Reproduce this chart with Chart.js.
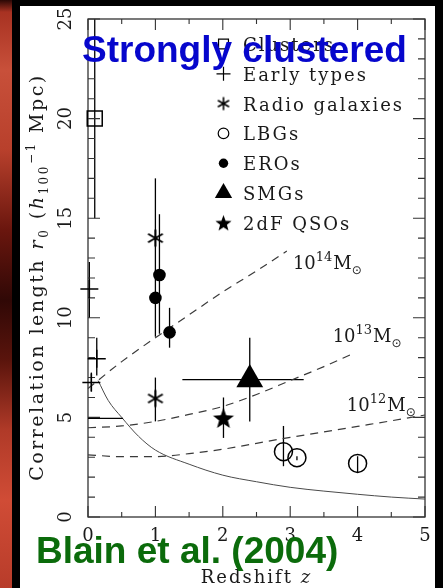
<!DOCTYPE html>
<html>
<head>
<meta charset="utf-8">
<title>Correlation length vs redshift</title>
<script src="https://cdn.jsdelivr.net/npm/chart.js@4.4.1/dist/chart.umd.min.js"></script>
<style>
    html, body { margin: 0; padding: 0; background: #000; }
    #stage { position: relative; width: 443px; height: 588px; overflow: hidden; background: #000; }
    #strip {
        position: absolute; left: 0; top: 0; width: 12px; height: 588px;
        background: linear-gradient(to bottom, #2a0805 0px, #a83222 12px, #c8503a 70px, #b8402c 150px,
            #6a160e 230px, #300806 300px, #5a140c 360px, #b03a28 430px, #d04c36 500px, #b83c2a 588px);
    }
    #panel { position: absolute; left: 20px; top: 6px; width: 415px; height: 582px; background: #fff; }
    #chart { position: absolute; left: 0; top: 0; }
    .tag {
        position: absolute; white-space: nowrap;
        font-family: "Liberation Sans", Arial, sans-serif; font-weight: bold;
        font-size: 37px; line-height: 37px;
    }
    #tag-top { left: 82px; top: 31px; color: #0606cc; }
    #tag-bottom { left: 36px; top: 532px; color: #0b6b0b; }
</style>
</head>
<body>
<div id="stage">
    <div id="strip"></div>
    <div id="panel"></div>
    <canvas id="chart" width="443" height="588"></canvas>
    <div class="tag" id="tag-top">Strongly clustered</div>
    <div class="tag" id="tag-bottom">Blain et al. (2004)</div>
</div>
<script>
// clustering measurements: redshift, r0 and r0 error range
const clusterZ = [0.1];
const clusterR0 = [20];
const clusterLo = [15];
const clusterHi = [26];

const earlyZ = [0.02, 0.13, 0.05];
const earlyR0 = [11.45, 7.95, 6.75];
const earlyLo = [10.0, 7.1, 6.3];
const earlyHi = [12.8, 9.0, 7.25];

const radioZ = [1.0, 1.0];
const radioR0 = [14.0, 5.95];
const radioLo = [9.05, 4.8];
const radioHi = [17.0, 7.0];

const lbgZ = [2.9, 3.1, 4.0];
const lbgR0 = [3.28, 2.98, 2.69];
const lbgLo = [2.55, 2.85, 2.25];
const lbgHi = [4.57, 3.05, 3.05];

const eroZ = [1.0, 1.06, 1.21];
const eroR0 = [11.0, 12.15, 9.27];
const eroLo = [null, 9.2, 8.5];
const eroHi = [null, 15.2, 10.5];

const smgZ = [2.4];
const smgR0 = [6.9];
const smgLo = [4.8];
const smgHi = [9.0];
const smgZLo = [1.4];
const smgZHi = [3.2];

const qsoZ = [2.01];
const qsoR0 = [4.97];
const qsoLo = [3.97];
const qsoHi = [6.0];

// local r0 level
const localZ = [0, 0.52];
const localR0 = [4.95, 4.95];

// halo mass tracks (dashed) and the solid curve
const halo14Z = [0, 0.5, 1, 1.5, 2, 2.5, 2.95];
const halo14R0 = [6.45, 7.8, 9.0, 10.15, 11.3, 12.35, 13.35];
const halo13Z = [0, 0.5, 1, 1.5, 2, 2.5, 3, 3.5, 3.92];
const halo13R0 = [4.48, 4.57, 4.8, 5.15, 5.55, 6.15, 6.85, 7.55, 8.18];
const halo12Z = [0, 0.5, 1, 1.5, 2, 2.5, 3, 3.5, 4, 4.5, 5];
const halo12R0 = [3.12, 3.03, 3.03, 3.18, 3.4, 3.7, 4.0, 4.27, 4.55, 4.83, 5.12];
const solidZ = [0.15, 0.3, 0.5, 0.75, 1, 1.5, 2, 2.5, 3, 3.5, 4, 4.5, 5];
const solidR0 = [6.85, 5.85, 5.0, 4.05, 3.36, 2.65, 2.1, 1.77, 1.49, 1.3, 1.14, 1.0, 0.9];

const yTickLabels = ["0", "5", "10", "15", "20", "25"];
const legendNames = ["Clusters", "Early types", "Radio galaxies", "LBGs", "EROs", "SMGs", "2dF QSOs"];

const SERIF = "'DejaVu Serif', serif";
const INK = "#1a1a1a";

function toXY(xs, ys) {
    return xs.map((x, i) => ({ x: x, y: ys[i] }));
}

// six-armed asterisk
function makeAsterisk(r, lw) {
    const s = 2 * Math.ceil(r + 2);
    const c = document.createElement("canvas");
    c.width = s; c.height = s;
    const g = c.getContext("2d");
    g.strokeStyle = "#000";
    g.lineWidth = lw;
    g.translate(s / 2, s / 2);
    for (let k = 0; k < 3; k++) {
        const a = Math.PI / 2 + k * Math.PI / 3;
        g.beginPath();
        g.moveTo(Math.cos(a) * r, Math.sin(a) * r);
        g.lineTo(-Math.cos(a) * r, -Math.sin(a) * r);
        g.stroke();
    }
    return c;
}

// filled five-pointed star
function makeStar(outer) {
    const inner = outer * 0.42;
    const s = Math.ceil(2 * outer + 2);
    const c = document.createElement("canvas");
    c.width = s; c.height = s;
    const g = c.getContext("2d");
    g.fillStyle = "#000";
    g.translate(s / 2, s / 2 + outer * 0.1);
    g.beginPath();
    for (let k = 0; k < 10; k++) {
        const rr = k % 2 === 0 ? outer : inner;
        const a = -Math.PI / 2 + k * Math.PI / 5;
        g.lineTo(Math.cos(a) * rr, Math.sin(a) * rr);
    }
    g.closePath();
    g.fill();
    return c;
}

const asterisk = makeAsterisk(8.5, 2);
const starMark = makeStar(11);

const datasets = [
    {
        label: "Clusters", data: toXY(clusterZ, clusterR0), lo: clusterLo, hi: clusterHi,
        pointStyle: "rect", pointRadius: 10.6, borderColor: "#000", backgroundColor: "rgba(0,0,0,0)", borderWidth: 1.5
    },
    {
        label: "Early types", data: toXY(earlyZ, earlyR0), lo: earlyLo, hi: earlyHi,
        pointStyle: "cross", pointRadius: 9, borderColor: "#000", borderWidth: 1.5
    },
    {
        label: "Radio galaxies", data: toXY(radioZ, radioR0), lo: radioLo, hi: radioHi,
        pointStyle: asterisk, pointRadius: 8
    },
    {
        label: "LBGs", data: toXY(lbgZ, lbgR0), lo: lbgLo, hi: lbgHi,
        pointStyle: "circle", pointRadius: 9, borderColor: "#000", backgroundColor: "rgba(0,0,0,0)", borderWidth: 1.5
    },
    {
        label: "EROs", data: toXY(eroZ, eroR0), lo: eroLo, hi: eroHi,
        pointStyle: "circle", pointRadius: 6.3, borderColor: "#000", backgroundColor: "#000", borderWidth: 0
    },
    {
        label: "SMGs", data: toXY(smgZ, smgR0), lo: smgLo, hi: smgHi, zLo: smgZLo, zHi: smgZHi,
        pointStyle: "triangle", pointRadius: 15.5, borderColor: "#000", backgroundColor: "#000", borderWidth: 0
    },
    {
        label: "2dF QSOs", data: toXY(qsoZ, qsoR0), lo: qsoLo, hi: qsoHi,
        pointStyle: starMark, pointRadius: 10
    },
    {
        label: "local", data: toXY(localZ, localR0), showLine: true, pointRadius: 0,
        borderColor: "#000", borderWidth: 1.3
    },
    {
        label: "1e14", data: toXY(halo14Z, halo14R0), showLine: true, pointRadius: 0,
        borderColor: "#3a3a3a", borderWidth: 1.2, borderDash: [8, 6], cubicInterpolationMode: "monotone"
    },
    {
        label: "1e13", data: toXY(halo13Z, halo13R0), showLine: true, pointRadius: 0,
        borderColor: "#3a3a3a", borderWidth: 1.2, borderDash: [8, 6], cubicInterpolationMode: "monotone"
    },
    {
        label: "1e12", data: toXY(halo12Z, halo12R0), showLine: true, pointRadius: 0,
        borderColor: "#3a3a3a", borderWidth: 1.2, borderDash: [8, 6], cubicInterpolationMode: "monotone"
    },
    {
        label: "solid", data: toXY(solidZ, solidR0), showLine: true, pointRadius: 0,
        borderColor: "#4a4a4a", borderWidth: 1, cubicInterpolationMode: "monotone"
    }
];

// error bars, drawn under the markers and clipped to the plot box
const errorBars = {
    id: "errorBars",
    beforeDatasetsDraw(chart) {
        const { ctx, chartArea: a, scales: { x, y } } = chart;
        ctx.save();
        ctx.beginPath();
        ctx.rect(a.left, a.top, a.right - a.left, a.bottom - a.top);
        ctx.clip();
        ctx.strokeStyle = "#000";
        ctx.lineWidth = 1.3;
        chart.data.datasets.forEach((ds) => {
            if (!ds.lo) return;
            ds.data.forEach((p, i) => {
                const px = x.getPixelForValue(p.x);
                const py = y.getPixelForValue(p.y);
                ctx.beginPath();
                if (ds.lo[i] != null) {
                    ctx.moveTo(px, y.getPixelForValue(ds.lo[i]));
                    ctx.lineTo(px, y.getPixelForValue(ds.hi[i]));
                }
                if (ds.zLo) {
                    ctx.moveTo(x.getPixelForValue(ds.zLo[i]), py);
                    ctx.lineTo(x.getPixelForValue(ds.zHi[i]), py);
                }
                ctx.stroke();
            });
        });
        ctx.restore();
    }
};

// box, inward ticks on all sides, y labels and axis titles
const frame = {
    id: "frame",
    beforeDatasetsDraw(chart) {
        const { ctx, chartArea: a, scales: { x, y } } = chart;
        ctx.save();
        ctx.strokeStyle = "#333";
        ctx.lineWidth = 1.3;
        ctx.strokeRect(a.left, a.top, a.right - a.left, a.bottom - a.top);
        ctx.lineWidth = 1.1;
        ctx.beginPath();
        for (let v = x.min; v <= x.max + 1e-9; v += 0.5) {
            const px = x.getPixelForValue(v);
            const len = Math.abs(v - Math.round(v)) < 1e-6 ? 11 : 5;
            ctx.moveTo(px, a.bottom); ctx.lineTo(px, a.bottom - len);
            ctx.moveTo(px, a.top); ctx.lineTo(px, a.top + len);
        }
        for (let v = y.min; v <= y.max + 1e-9; v += 1) {
            const py = y.getPixelForValue(v);
            const len = v % 5 === 0 ? 12 : 7;
            ctx.moveTo(a.left, py); ctx.lineTo(a.left + len, py);
            ctx.moveTo(a.right, py); ctx.lineTo(a.right - len, py);
        }
        ctx.stroke();

        ctx.fillStyle = INK;
        ctx.font = "18px " + SERIF;
        ctx.textAlign = "center";
        ctx.textBaseline = "middle";
        y.ticks.forEach((t, i) => {
            ctx.save();
            ctx.translate(66, y.getPixelForValue(t.value));
            ctx.rotate(-Math.PI / 2);
            ctx.fillText(yTickLabels[i], 0, 0);
            ctx.restore();
        });
        ctx.restore();

        // x title
        drawRun(ctx, [
            { t: "Redshift ", f: "18px " + SERIF },
            { t: "z", f: "italic 18px " + SERIF }
        ], (a.left + a.right) / 2, 583, 0, 2);

        // y title
        drawRun(ctx, [
            { t: "Correlation length ", f: "19px " + SERIF },
            { t: "r", f: "italic 19px " + SERIF },
            { t: "0", f: "12px " + SERIF, dy: 5 },
            { t: " (", f: "19px " + SERIF },
            { t: "h", f: "italic 19px " + SERIF },
            { t: "100", f: "12px " + SERIF, dy: 5 },
            { t: "\u22121", f: "12px " + SERIF, dy: -8 },
            { t: " Mpc)", f: "19px " + SERIF }
        ], 43, 277, -Math.PI / 2, 2.5);
    }
};

// draws a run of text pieces centred on (cx, cy), baseline at cy
function drawRun(ctx, parts, cx, cy, rot, spacing) {
    ctx.save();
    ctx.fillStyle = INK;
    ctx.textAlign = "left";
    ctx.textBaseline = "alphabetic";
    ctx.letterSpacing = spacing + "px";
    let total = 0;
    parts.forEach((p) => { ctx.font = p.f; p.w = ctx.measureText(p.t).width; total += p.w; });
    ctx.translate(cx, cy);
    ctx.rotate(rot);
    let xx = -total / 2;
    parts.forEach((p) => {
        ctx.font = p.f;
        ctx.fillText(p.t, xx, p.dy || 0);
        xx += p.w;
    });
    ctx.restore();
}

// halo mass labels beside the dashed tracks
function massLabel(ctx, xs, ys, px, py, exp) {
    ctx.save();
    ctx.fillStyle = INK;
    ctx.textAlign = "left";
    ctx.textBaseline = "alphabetic";
    ctx.font = "18px " + SERIF;
    let xx = xs.getPixelForValue(px);
    const yy = ys.getPixelForValue(py);
    ctx.fillText("10", xx, yy);
    xx += ctx.measureText("10").width;
    ctx.font = "13px " + SERIF;
    ctx.fillText(exp, xx, yy - 8);
    xx += ctx.measureText(exp).width + 1;
    ctx.font = "18px " + SERIF;
    ctx.fillText("M", xx, yy);
    xx += ctx.measureText("M").width;
    ctx.font = "12px 'DejaVu Sans', sans-serif";
    ctx.fillText("\u2299", xx, yy + 5);
    ctx.restore();
}

const annotations = {
    id: "annotations",
    afterDatasetsDraw(chart) {
        const { ctx, scales: { x, y } } = chart;
        massLabel(ctx, x, y, 3.04, 12.45, "14");
        massLabel(ctx, x, y, 3.63, 8.8, "13");
        massLabel(ctx, x, y, 3.84, 5.32, "12");

        // key in the upper right of the plot
        const sym = [
            { pointStyle: "rect", radius: 7, fill: "rgba(0,0,0,0)" },
            { pointStyle: "cross", radius: 7, fill: "#000" },
            { pointStyle: makeAsterisk(6.5, 1.6), radius: 6 },
            { pointStyle: "circle", radius: 5.3, fill: "rgba(0,0,0,0)" },
            { pointStyle: "circle", radius: 4.7, fill: "#000", bw: 0 },
            { pointStyle: "triangle", radius: 10, fill: "#000", bw: 0 },
            { pointStyle: makeStar(8.5), radius: 8 }
        ];
        ctx.save();
        legendNames.forEach((name, i) => {
            const ry = 44 + i * 29.8;
            const s = sym[i];
            ctx.strokeStyle = "#000";
            ctx.fillStyle = s.fill || "#000";
            ctx.lineWidth = s.bw === 0 ? 0 : 1.2;
            Chart.helpers.drawPoint(ctx, {
                pointStyle: s.pointStyle, radius: s.radius, rotation: 0,
                borderWidth: s.bw === 0 ? 0 : 1.2
            }, 223.5, ry);
            ctx.fillStyle = INK;
            ctx.font = "18px " + SERIF;
            ctx.letterSpacing = "2px";
            ctx.textAlign = "left";
            ctx.textBaseline = "alphabetic";
            ctx.fillText(name, 243, ry + 7);
        });
        ctx.restore();
    }
};

new Chart(document.getElementById("chart"), {
    type: "scatter",
    data: { datasets: datasets },
    options: {
        responsive: false,
        animation: false,
        layout: { padding: { left: 0, top: 19, right: 18, bottom: 0 } },
        plugins: { legend: { display: false }, tooltip: { enabled: false } },
        elements: { point: { hoverRadius: 0 } },
        datasets: { scatter: { clip: false } },
        scales: {
            x: {
                type: "linear", min: 0, max: 5,
                afterFit: (s) => { s.height = 71; },
                grid: { display: false, drawTicks: false },
                border: { display: false },
                ticks: { stepSize: 1, padding: 9, color: INK, font: { family: "DejaVu Serif", size: 18 } }
            },
            y: {
                type: "linear", min: 0, max: 25,
                afterFit: (s) => { s.width = 88; },
                grid: { display: false, drawTicks: false },
                border: { display: false },
                ticks: { stepSize: 5, display: false }
            }
        }
    },
    plugins: [errorBars, frame, annotations]
});
</script>
</body>
</html>
